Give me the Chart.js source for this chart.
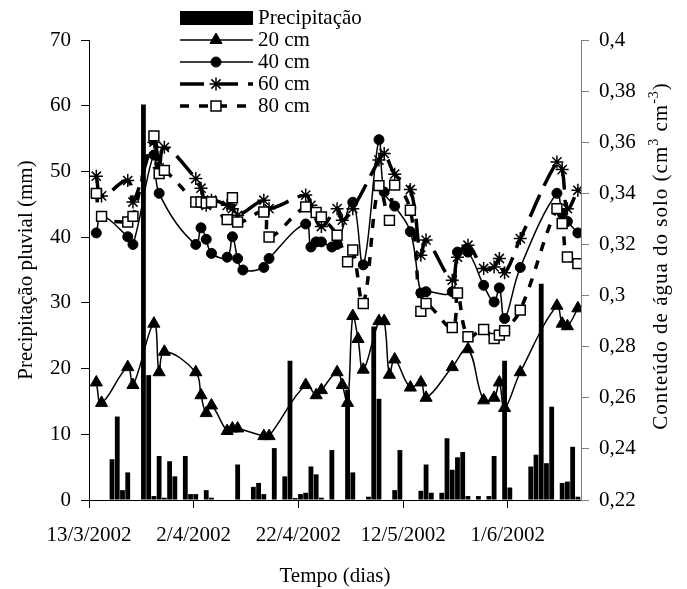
<!DOCTYPE html>
<html>
<head>
<meta charset="utf-8">
<script src="https://cdn.jsdelivr.net/npm/chart.js@4.4.1/dist/chart.umd.min.js"></script>
<style>
  body { margin: 0; background: #fff; }
  canvas { display: block; }
</style>
</head>
<body>
<canvas id="chart" width="687" height="589"></canvas>
<script>
// days are counted from 13/3/2002
let rainDays = [4, 5, 6, 7, 10, 11, 12, 13, 14, 15, 16, 18, 19, 20, 22, 23, 28, 31, 32, 33,
  35, 37, 38, 39, 40, 41, 42, 43, 44, 46, 49, 50, 53, 54, 55, 58, 59, 63, 64, 65,
  67, 68, 69, 70, 71, 72, 74, 76, 77, 79, 80, 84, 85, 86, 87, 88, 90, 91, 92, 93];
let rainMm = [6.2, 12.7, 1.5, 4.2, 60.2, 19.0, 0.6, 6.7, 0.35, 5.9, 3.6, 6.7, 0.9, 0.9, 1.5, 0.35, 5.4, 2.0, 2.6, 0.9,
  7.9, 3.6, 21.2, 0.3, 0.9, 1.1, 5.1, 3.9, 0.35, 7.6, 16.8, 4.2, 0.5, 26.4, 15.4, 1.5, 7.6, 1.4, 5.4, 1.1,
  1.1, 9.4, 4.6, 6.5, 7.3, 0.6, 0.6, 0.6, 6.7, 21.2, 1.9, 5.1, 6.9, 32.9, 5.6, 14.2, 2.6, 2.8, 8.1, 0.5];

let days20 = [1, 2, 7, 8, 12, 13, 14, 20, 21, 22, 23, 26, 27, 28, 33, 34, 41, 43, 44, 47, 48, 49,
  50, 51, 52, 55, 56, 57, 58, 61, 63, 64, 69, 72, 75, 77, 78, 79, 82, 89, 90, 91, 93];
let soil20 = [0.266, 0.258, 0.272, 0.265, 0.289, 0.270, 0.278, 0.270, 0.261, 0.254, 0.257, 0.247, 0.248, 0.248,
  0.245, 0.245, 0.265, 0.261, 0.263, 0.270, 0.265, 0.258, 0.292, 0.283, 0.271, 0.290, 0.290, 0.269, 0.275,
  0.264, 0.266, 0.260, 0.272, 0.279, 0.259, 0.260, 0.266, 0.256, 0.270, 0.296, 0.289, 0.288, 0.295];

let days40 = [1, 2, 7, 8, 12, 13, 20, 21, 22, 23, 26, 27, 28, 29, 33, 34, 41, 42, 43, 44, 46,
  47, 50, 52, 55, 56, 58, 61, 63, 64, 69, 70, 72, 75, 77, 78, 79, 82, 89, 90, 91, 93];
let soil40 = [0.3245, 0.331, 0.323, 0.320, 0.355, 0.340, 0.320, 0.3265, 0.322, 0.3165, 0.315, 0.323, 0.3145,
  0.310, 0.311, 0.3145, 0.328, 0.319, 0.321, 0.321, 0.319, 0.320, 0.3365, 0.312, 0.361, 0.3405, 0.335,
  0.325, 0.301, 0.3015, 0.3015, 0.317, 0.317, 0.304, 0.2975, 0.303, 0.291, 0.311, 0.340, 0.332, 0.329, 0.3245];

let days60 = [1, 2, 7, 8, 12, 13, 14, 20, 21, 22, 23, 26, 27, 28, 33, 34, 41, 42, 44, 47,
  48, 50, 55, 56, 58, 61, 63, 64, 69, 70, 72, 75, 77, 78, 79, 82, 89, 90, 91, 93];
let soil60 = [0.3467, 0.339, 0.345, 0.3366, 0.360, 0.350, 0.358, 0.3458, 0.342, 0.3353, 0.3373, 0.3353, 0.334,
  0.3314, 0.3373, 0.334, 0.3393, 0.3353, 0.327, 0.334, 0.3295, 0.334, 0.353, 0.3556, 0.3475, 0.3415,
  0.3158, 0.3217, 0.306, 0.315, 0.3197, 0.3106, 0.3112, 0.3145, 0.3089, 0.3223, 0.3523, 0.3493, 0.334, 0.3412];

let days80 = [1, 2, 7, 8, 12, 13, 14, 20, 21, 22, 23, 26, 27, 28, 33, 34, 41, 43, 44, 47, 49,
  50, 52, 55, 57, 58, 61, 63, 64, 69, 70, 72, 75, 77, 78, 79, 82, 89, 90, 91, 93];
let soil80 = [0.340, 0.331, 0.3288, 0.331, 0.3625, 0.3477, 0.349, 0.3366, 0.3366, 0.3362, 0.3366, 0.3297,
  0.3383, 0.3288, 0.3327, 0.3229, 0.3347, 0.3325, 0.3308, 0.3236, 0.3132, 0.3178, 0.2969, 0.343, 0.3294,
  0.3432, 0.3334, 0.2938, 0.2969, 0.2875, 0.301, 0.2839, 0.2867, 0.2832, 0.2845, 0.2862, 0.2943, 0.334,
  0.3282, 0.3151, 0.3125];

let tickDays = [0, 20, 40, 60, 80];
let tickLabels = ['13/3/2002', '2/4/2002', '22/4/2002', '12/5/2002', '1/6/2002'];

// excel puts each date inside its day slot, a bit right of the tick
let dayCentre = 0.4;

function points(days, values) {
  return days.map((d, i) => ({ x: d + dayCentre, y: values[i] }));
}

function commaTick(v) {
  return String(Number(v.toFixed(2))).replace('.', ',');
}

const serif = "'Liberation Serif', 'Times New Roman', serif";
Chart.defaults.font.family = serif;
Chart.defaults.font.size = 21;
Chart.defaults.color = '#000';

// legend + right axis title, drawn like the excel original
const extras = {
  id: 'extras',
  afterDraw(chart) {
    const ctx = chart.ctx;
    ctx.save();
    ctx.font = '21px ' + serif;
    ctx.textBaseline = 'middle';
    ctx.textAlign = 'left';
    chart.data.datasets.forEach((ds, i) => {
      const y = 18 + i * 22;
      if (ds.type === 'bar') {
        ctx.fillStyle = '#000';
        ctx.fillRect(180, y - 7, 73, 14);
      } else {
        ctx.strokeStyle = '#000';
        ctx.lineWidth = ds.borderWidth;
        ctx.setLineDash(ds.borderDash || []);
        ctx.beginPath();
        ctx.moveTo(180, y);
        ctx.lineTo(253, y);
        ctx.stroke();
        ctx.setLineDash([]);
        ctx.fillStyle = ds.pointBackgroundColor;
        ctx.strokeStyle = ds.pointBorderColor;
        ctx.lineWidth = ds.pointBorderWidth;
        Chart.helpers.drawPoint(ctx, {
          pointStyle: ds.pointStyle, radius: ds.pointRadius, rotation: 0, borderWidth: ds.pointBorderWidth
        }, 216, y);
      }
      ctx.fillStyle = '#000';
      ctx.fillText(ds.label, 258, y);
    });

    const parts = [['Conteúdo de água do solo (cm', false], ['3', true], [' cm', false], ['-3', true], [')', false]];
    ctx.letterSpacing = '1px';
    let total = 0;
    parts.forEach(p => {
      ctx.font = (p[1] ? '14px ' : '21px ') + serif;
      total += ctx.measureText(p[0]).width;
    });
    ctx.translate(661, 256);
    ctx.rotate(-Math.PI / 2);
    let px = -total / 2;
    parts.forEach(p => {
      ctx.font = (p[1] ? '14px ' : '21px ') + serif;
      ctx.fillText(p[0], px, p[1] ? -7 : 0);
      px += ctx.measureText(p[0]).width;
    });
    ctx.restore();
  }
};

let ctx = document.getElementById('chart').getContext('2d');
let chart = new Chart(ctx, {
  type: 'bar',
  data: {
    datasets: [{
      type: 'bar',
      label: 'Precipitação',
      data: points(rainDays, rainMm),
      backgroundColor: '#000',
      borderWidth: 0,
      categoryPercentage: 1,
      barPercentage: 0.92,
      yAxisID: 'y',
      order: 5
    }, {
      type: 'line',
      label: '20 cm',
      data: points(days20, soil20),
      borderColor: '#000',
      borderWidth: 1.5,
      tension: 0.4,
      pointStyle: 'triangle',
      pointRadius: 7,
      pointBackgroundColor: '#000',
      pointBorderColor: '#000',
      pointBorderWidth: 1,
      yAxisID: 'y2',
      order: 4
    }, {
      type: 'line',
      label: '40 cm',
      data: points(days40, soil40),
      borderColor: '#000',
      borderWidth: 1.5,
      tension: 0.4,
      pointStyle: 'circle',
      pointRadius: 5,
      pointBackgroundColor: '#000',
      pointBorderColor: '#000',
      pointBorderWidth: 1,
      yAxisID: 'y2',
      order: 3
    }, {
      type: 'line',
      label: '60 cm',
      data: points(days60, soil60),
      borderColor: '#000',
      borderWidth: 3.5,
      borderDash: [24, 10],
      tension: 0.4,
      pointStyle: 'star',
      pointRadius: 6.5,
      pointBackgroundColor: '#000',
      pointBorderColor: '#000',
      pointBorderWidth: 1.5,
      yAxisID: 'y2',
      order: 2
    }, {
      type: 'line',
      label: '80 cm',
      data: points(days80, soil80),
      borderColor: '#000',
      borderWidth: 3.5,
      borderDash: [9, 10],
      tension: 0.4,
      pointStyle: 'rect',
      pointRadius: 7,
      pointBackgroundColor: '#fff',
      pointBorderColor: '#000',
      pointBorderWidth: 1.5,
      yAxisID: 'y2',
      order: 1
    }]
  },
  options: {
    responsive: false,
    animation: false,
    layout: { padding: { top: 40, left: 0, right: 0, bottom: 0 } },
    plugins: {
      legend: { display: false },
      tooltip: { enabled: false }
    },
    scales: {
      x: {
        type: 'linear',
        min: 0,
        max: 94,
        offset: false,
        grid: { drawOnChartArea: false, tickLength: 8, color: '#000', offset: false },
        border: { color: '#000', width: 1 },
        ticks: {
          padding: 15,
          maxRotation: 0,
          autoSkip: false,
          callback: (v) => tickLabels[tickDays.indexOf(v)]
        },
        afterBuildTicks: (s) => { s.ticks = tickDays.map(v => ({ value: v })); },
        afterFit: (s) => { s.height = 89; },
        title: { display: true, text: 'Tempo (dias)', padding: { top: 0, bottom: 0 } }
      },
      y: {
        position: 'left',
        min: 0,
        max: 70,
        ticks: { stepSize: 10, padding: 10 },
        grid: { drawOnChartArea: false, tickLength: 8, color: '#000' },
        border: { color: '#000', width: 1 },
        afterFit: (s) => { s.width = 89; },
        title: { display: true, text: 'Precipitação pluvial (mm)', padding: { top: 14, bottom: 0 } }
      },
      y2: {
        position: 'right',
        min: 0.22,
        max: 0.4,
        ticks: { stepSize: 0.02, padding: 10, callback: (v) => commaTick(v) },
        grid: { drawOnChartArea: false, tickLength: 8, color: '#808080' },
        border: { color: '#808080', width: 1 },
        afterFit: (s) => { s.width = 106; }
      }
    }
  },
  plugins: [extras]
});
</script>
</body>
</html>
